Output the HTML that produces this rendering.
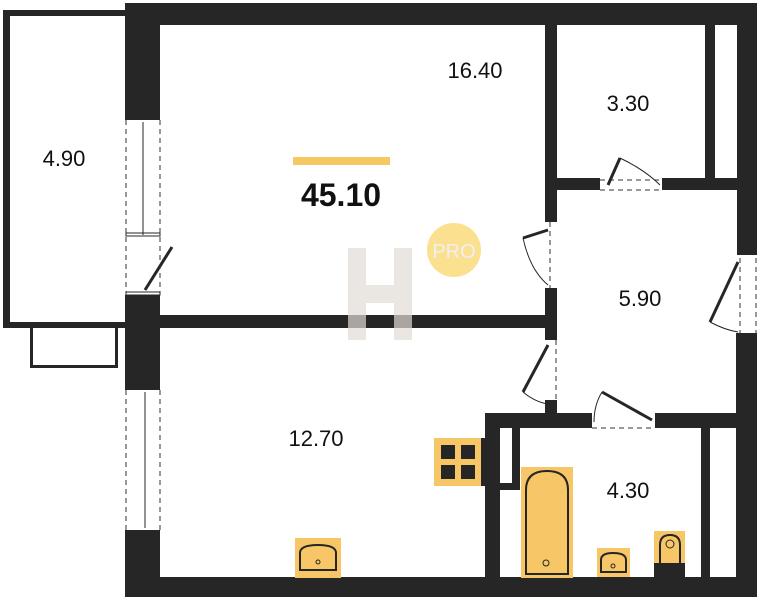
<!DOCTYPE html>
<html><head><meta charset="utf-8"><style>body{margin:0;background:#fff}svg{display:block}text{font-family:"Liberation Sans",sans-serif}</style></head><body>
<svg width="760" height="600" viewBox="0 0 760 600" xmlns="http://www.w3.org/2000/svg">
<g fill="#262626">
<rect x="3" y="10" width="122" height="6"/><rect x="3" y="10" width="7" height="318"/><rect x="3" y="322" width="122" height="6"/>
<rect x="30" y="325" width="3" height="43"/><rect x="115" y="325" width="3" height="43"/><rect x="30" y="365" width="88" height="3"/>
<rect x="125" y="3" width="632" height="22"/>
<rect x="125" y="3" width="35" height="117"/>
<rect x="125" y="295" width="35" height="95"/>
<rect x="125" y="530" width="35" height="67"/>
<rect x="125" y="577" width="632" height="20"/>
<rect x="737" y="3" width="20" height="252"/>
<rect x="736" y="333" width="21" height="264"/>
<rect x="160" y="315" width="397" height="13"/>
<rect x="545" y="24" width="12" height="198"/>
<rect x="545" y="288" width="12" height="52"/>
<rect x="545" y="400" width="12" height="13"/>
<rect x="545" y="178" width="55" height="12"/>
<rect x="662" y="178" width="75" height="12"/>
<rect x="705" y="24" width="10" height="156"/>
<rect x="485" y="413" width="107" height="15"/>
<rect x="655" y="413" width="82" height="15"/>
<rect x="485" y="413" width="15" height="165"/>
<rect x="512" y="428" width="8" height="62"/>
<rect x="500" y="483" width="20" height="7"/>
<rect x="701" y="428" width="9" height="150"/>
</g>
<g stroke="#333" stroke-width="1" fill="none" stroke-dasharray="5,4">
<line x1="126" y1="120" x2="126" y2="295"/><line x1="160" y1="120" x2="160" y2="295"/>
<line x1="126" y1="390" x2="126" y2="530"/><line x1="160" y1="390" x2="160" y2="530"/>
<line x1="740" y1="258" x2="740" y2="333"/><line x1="756" y1="258" x2="756" y2="333"/>
<line x1="550" y1="222" x2="550" y2="288"/><line x1="556" y1="340" x2="556" y2="400"/>
<line x1="600" y1="180" x2="662" y2="180"/><line x1="600" y1="190" x2="662" y2="190"/>
<line x1="592" y1="428" x2="655" y2="428"/>
</g>
<g stroke="#262626" fill="none">
<line x1="143" y1="122" x2="143" y2="235" stroke-width="1"/>
<rect x="126" y="233" width="34" height="3" stroke-width="1"/>
<rect x="126" y="292" width="34" height="3" stroke-width="1"/>
<line x1="145" y1="290" x2="172" y2="247" stroke-width="3"/>
<line x1="145" y1="392" x2="145" y2="528" stroke-width="1"/>
<line x1="548" y1="230" x2="523" y2="238" stroke-width="3"/>
<path d="M523 238 Q530 270 548 285" stroke-width="1"/>
<line x1="548" y1="345" x2="523" y2="392" stroke-width="3"/>
<path d="M523 392 Q535 402 548 404" stroke-width="1"/>
<line x1="608" y1="185" x2="620" y2="158" stroke-width="3"/>
<path d="M620 158 Q645 170 660 185" stroke-width="1"/>
<line x1="652" y1="420" x2="602" y2="392" stroke-width="3"/>
<path d="M602 392 Q594 405 594 422" stroke-width="1"/>
<line x1="738" y1="262" x2="710" y2="322" stroke-width="3"/>
<path d="M710 322 Q725 330 738 332" stroke-width="1"/>
</g>
<rect x="434" y="438" width="47" height="48" fill="#f6c667"/>
<g fill="#262626"><rect x="441" y="445" width="14" height="14"/><rect x="461" y="445" width="14" height="14"/><rect x="441" y="465" width="14" height="14"/><rect x="461" y="465" width="14" height="14"/><rect x="481" y="438" width="4" height="48"/></g>
<rect x="521" y="467" width="52" height="111" fill="#f6c667"/>
<path d="M526 574 V490 Q526 471 547 471 Q568 471 568 490 V574 Z" fill="none" stroke="#262626" stroke-width="2"/>
<circle cx="546" cy="563" r="3" fill="none" stroke="#262626"/>
<rect x="597" y="548" width="33" height="29" fill="#f6c667"/>
<path d="M601 572 V560 Q601 553 613 553 Q626 553 626 560 V572 Z" fill="none" stroke="#262626" stroke-width="2"/>
<circle cx="613" cy="566" r="2" fill="none" stroke="#262626"/>
<rect x="654" y="531" width="31" height="33" fill="#f6c667"/>
<rect x="654" y="563" width="31" height="15" fill="#262626"/>
<path d="M660 563 V545 Q660 535 670 535 Q680 535 680 545 V563" fill="none" stroke="#262626" stroke-width="2"/>
<circle cx="670" cy="544" r="4" fill="none" stroke="#262626"/>
<rect x="295" y="538" width="46" height="40" fill="#f6c667"/>
<path d="M300 570 V553 Q300 545 318 545 Q336 545 336 553 V570 Z" fill="none" stroke="#262626" stroke-width="2"/>
<circle cx="318" cy="562" r="2" fill="none" stroke="#262626"/>
<g fill="#e2dcd6" opacity="0.7"><rect x="348" y="248" width="18" height="92"/><rect x="394" y="248" width="18" height="92"/><rect x="366" y="285" width="28" height="18"/></g>
<circle cx="454" cy="250" r="27" fill="#fbe08f"/>
<text x="454" y="258" font-size="20" fill="#f0f0f0" text-anchor="middle">PRO</text>
<rect x="293" y="157" width="97" height="8" fill="#f6c862"/>
<g font-size="22" fill="#111" text-anchor="middle">
<text x="475" y="78">16.40</text><text x="628" y="111">3.30</text><text x="64" y="166">4.90</text>
<text x="640" y="306">5.90</text><text x="316" y="446">12.70</text><text x="628" y="498">4.30</text>
</g>
<text x="341" y="206" font-size="32" font-weight="bold" fill="#111" text-anchor="middle">45.10</text>
</svg>
</body></html>
